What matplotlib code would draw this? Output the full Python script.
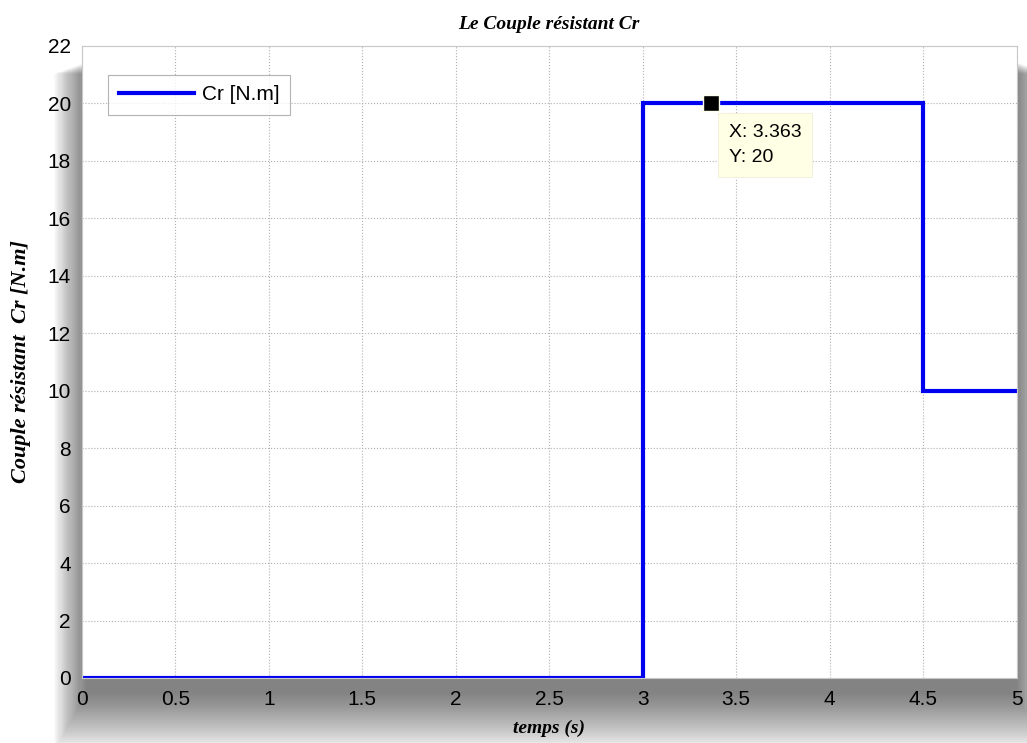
import matplotlib.pyplot as plt
from matplotlib.patches import Rectangle
import numpy as np

# Step profile of the load torque
t = [0, 3, 3, 4.5, 4.5, 5]
cr = [0, 0, 20, 20, 10, 10]

tip_x = 3.363
tip_y = 20

xticks = [0, 0.5, 1, 1.5, 2, 2.5, 3, 3.5, 4, 4.5, 5]
yticks = [0, 2, 4, 6, 8, 10, 12, 14, 16, 18, 20, 22]

plt.rcParams['font.family'] = ['Liberation Sans', 'DejaVu Sans']

fig = plt.figure(figsize=(10.27, 7.43), dpi=100)
fig.patch.set_facecolor('white')

left, bottom, width, height = 0.0798, 0.0875, 0.910, 0.851

# soft drop shadow behind the axes
for i in range(30):
    grow = 0.0018 * i
    fig.patches.append(Rectangle((left + 0.004 - grow * 0.6, bottom - 0.022 - grow * 1.5),
                                 width - 0.004 + grow * 1.2, height + grow * 1.2,
                                 transform=fig.transFigure, facecolor='black',
                                 alpha=0.02, edgecolor='none', zorder=0))

ax = fig.add_axes([left, bottom, width, height])
ax.set_zorder(1)

ax.plot(t, cr, color='#0000f0', linewidth=3, label='Cr [N.m]', solid_joinstyle='miter')

ax.set_xlim(0, 5)
ax.set_ylim(0, 22)
ax.set_xticks(xticks)
ax.set_xticklabels(['0', '0.5', '1', '1.5', '2', '2.5', '3', '3.5', '4', '4.5', '5'])
ax.set_yticks(yticks)
ax.tick_params(labelsize=15, length=0)
ax.tick_params(axis='x', pad=9)
ax.tick_params(axis='y', pad=8)
ax.grid(True, linestyle=':', color='#b0b0b0', linewidth=0.8)
for s in ax.spines.values():
    s.set_color('#c8c8c8')
    s.set_linewidth(0.8)

serif = ['Liberation Serif', 'DejaVu Serif']
ax.set_title('Le Couple résistant Cr', family=serif, fontsize=14,
             fontweight='bold', fontstyle='italic', pad=12)
ax.set_xlabel('temps (s)', family=serif, fontsize=14, fontweight='bold',
              fontstyle='italic', labelpad=7)
ax.set_ylabel('Couple résistant  Cr [N.m]', family=serif, fontsize=16,
              fontweight='bold', fontstyle='italic', labelpad=12)

leg = ax.legend(loc='upper left', fontsize=15, fancybox=False,
                bbox_to_anchor=(0.017, 0.97), handlelength=3.6,
                borderpad=0.5, handletextpad=0.4)
leg.get_frame().set_edgecolor('#a0a0a0')
leg.get_frame().set_linewidth(0.8)

# data tip
ax.plot([tip_x], [tip_y], marker='s', markersize=11, color='black',
        markeredgecolor='#fffff0', markeredgewidth=1, zorder=5)
ax.annotate('X: %.3f\nY: %d' % (tip_x, tip_y), xy=(tip_x, tip_y),
            xytext=(13, -15), textcoords='offset points', ha='left', va='top',
            fontsize=14, linespacing=1.6,
            bbox=dict(boxstyle='square,pad=0.55', facecolor='#ffffe6',
                      edgecolor='#eeeed8', linewidth=0.6))

fig.savefig('out.png', dpi=100)
